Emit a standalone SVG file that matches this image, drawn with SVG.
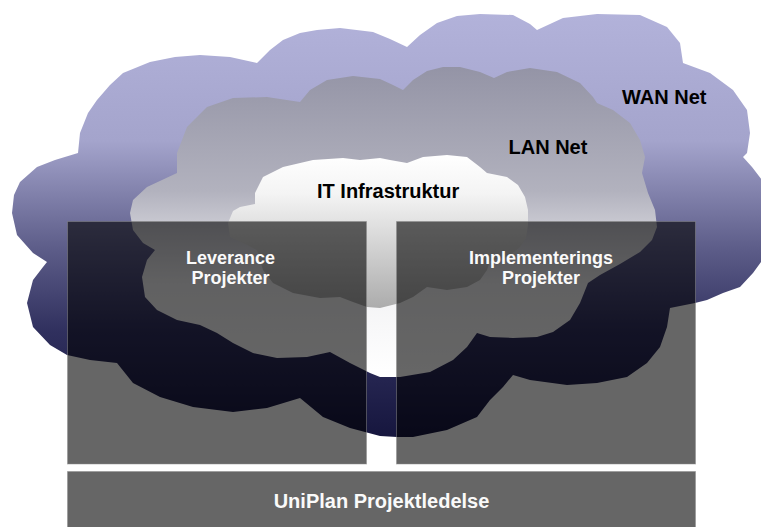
<svg xmlns="http://www.w3.org/2000/svg" width="761" height="527" viewBox="0 0 761 527">
  <defs>
    <linearGradient id="gWan" gradientUnits="userSpaceOnUse" x1="0" y1="14" x2="0" y2="437">
      <stop offset="0" stop-color="#b2b2da"/>
      <stop offset="0.3" stop-color="#a4a4cc"/>
      <stop offset="0.55" stop-color="#5e5e8a"/>
      <stop offset="0.75" stop-color="#30305e"/>
      <stop offset="1" stop-color="#16163e"/>
    </linearGradient>
    <linearGradient id="gLan" gradientUnits="userSpaceOnUse" x1="0" y1="67" x2="0" y2="377">
      <stop offset="0" stop-color="#9494a6"/>
      <stop offset="0.4" stop-color="#b2b2be"/>
      <stop offset="0.7" stop-color="#f2f2f4"/>
      <stop offset="1" stop-color="#ffffff"/>
    </linearGradient>
    <linearGradient id="gIt" gradientUnits="userSpaceOnUse" x1="0" y1="155" x2="0" y2="308">
      <stop offset="0" stop-color="#ffffff"/>
      <stop offset="0.25" stop-color="#f4f4f4"/>
      <stop offset="1" stop-color="#acacac"/>
    </linearGradient>
  </defs>
  <style>
    .lbl { font-family: "Liberation Sans", Arial, sans-serif; font-weight: bold; }
    .cloudlbl { font-size: 20px; fill: #000000; }
    .boxlbl { font-size: 18px; fill: #fafafa; text-anchor: middle; }
    .box { fill: #000000; fill-opacity: 0.6; stroke: #8c8c8c; stroke-opacity: 0.5; stroke-width: 1; }
    .bar { fill: #666666; stroke: #8c8c8c; stroke-opacity: 0.5; stroke-width: 1; }
  </style>
  <rect x="0" y="0" width="761" height="527" fill="#ffffff"/>

  <g id="wan-cloud">
    <path fill="url(#gWan)" d="M12,213 L14,195 20,182 37,167 55,160 78,153 80,133 88,113 97,100 110,85 123,73 150,62 175,57 200,55 230,57 257,63 270,50 283,40 300,33 317,30 340,28 373,32 390,39 407,47 420,35 437,23 457,16 480,14 513,15 530,24 537,30 563,18 597,14 640,15 667,27 680,43 683,63 710,73 733,90 747,110 750,133 747,153 743,157 752,167 762,180 770,200 772,225 768,250 761,262 753,273 740,287 723,293 707,300 695,303 670,308 667,327 660,347 647,363 627,377 597,383 567,385 530,380 513,375 503,387 490,400 477,417 447,430 413,437 397,437 380,436 350,428 323,417 300,398 267,408 233,412 193,407 160,397 133,383 117,363 90,360 67,355 50,345 33,327 27,303 33,280 43,267 47,262 33,253 17,235 Z"/>
    <text class="lbl cloudlbl" x="622" y="104">WAN Net</text>
  </g>

  <g id="lan-cloud">
    <path fill="url(#gLan)" d="M130,213 L133,200 147,187 177,173 177,153 187,127 207,107 233,98 267,97 300,102 310,90 327,80 353,76 380,79 393,85 403,90 413,80 427,71 443,67 460,67 480,72 494,78 507,72 530,68 557,72 580,83 593,97 597,103 613,110 630,123 640,140 645,157 642,173 648,193 655,210 657,227 652,240 640,252 620,264 600,275 588,283 580,303 570,320 553,332 537,337 513,338 490,337 477,333 467,347 453,360 430,372 400,377 380,377 370,373 350,363 330,352 307,357 277,358 253,353 233,343 217,333 200,325 177,320 157,310 145,297 142,277 147,260 155,250 143,243 133,230 Z"/>
    <text class="lbl cloudlbl" x="508.5" y="154">LAN Net</text>
  </g>

  <g id="it-cloud">
    <path fill="url(#gIt)" d="M228,223 L233,211 240,207 255,204 255,193 263,177 283,167 313,160 343,158 360,160 380,158 390,160 407,163 423,157 447,155 467,157 480,167 487,173 507,177 518,185 525,197 528,210 528,225 526,238 520,247 507,257 490,261 487,270 480,280 467,287 447,290 427,287 413,297 400,303 380,308 367,307 353,302 340,297 320,298 293,293 273,283 263,270 257,250 243,243 230,237 Z"/>
    <text class="lbl cloudlbl" x="317" y="198">IT Infrastruktur</text>
  </g>

  <g id="box-leverance">
    <rect class="box" x="67.5" y="221.5" width="299" height="242.5"/>
    <text class="lbl boxlbl" x="230.5" y="263.5">Leverance</text>
    <text class="lbl boxlbl" x="230.5" y="283.5">Projekter</text>
  </g>

  <g id="box-implementerings">
    <rect class="box" x="396.5" y="221.5" width="299" height="242.5"/>
    <text class="lbl boxlbl" x="541" y="263.5">Implementerings</text>
    <text class="lbl boxlbl" x="541" y="283.5">Projekter</text>
  </g>

  <g id="box-uniplan">
    <rect class="bar" x="67.5" y="471.5" width="628" height="60"/>
    <text class="lbl" x="381.5" y="508" font-size="20" fill="#fafafa" text-anchor="middle">UniPlan Projektledelse</text>
  </g>

  <g id="connectors"/>
</svg>
